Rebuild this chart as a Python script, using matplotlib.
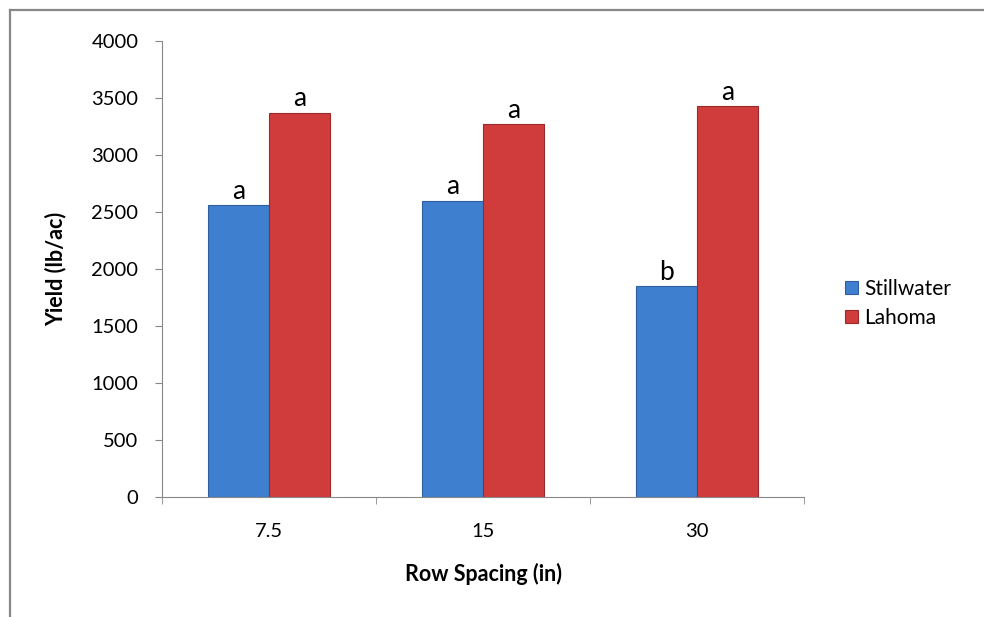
import numpy as np
import matplotlib
matplotlib.use('Agg')
import matplotlib.pyplot as plt
from matplotlib.lines import Line2D

plt.rcParams['font.family'] = ['Lato', 'DejaVu Sans']

spacing = ['7.5', '15', '30']
stillwater = [2560, 2600, 1850]
lahoma = [3370, 3270, 3430]
letters_still = ['a', 'a', 'b']
letters_lahoma = ['a', 'a', 'a']

fig = plt.figure(figsize=(9.84, 6.17), dpi=100)
ax = fig.add_axes([162/984, 1-497/617, 642/984, 456/617])

x = np.arange(len(spacing))
w = 0.285
b1 = ax.bar(x - w/2, stillwater, w, color='#3f7fcf', edgecolor='#2f5f9f', linewidth=0.8, label='Stillwater')
b2 = ax.bar(x + w/2, lahoma, w, color='#d03c3c', edgecolor='#9a2a2a', linewidth=0.8, label='Lahoma')

# lettres de significativite
for rect, lab in zip(b1, letters_still):
    ax.annotate(lab, (rect.get_x() + rect.get_width()/2, rect.get_height()),
                xytext=(0, 1), textcoords='offset points', ha='center', va='bottom', fontsize=19)
for rect, lab in zip(b2, letters_lahoma):
    ax.annotate(lab, (rect.get_x() + rect.get_width()/2, rect.get_height()),
                xytext=(0, 1), textcoords='offset points', ha='center', va='bottom', fontsize=19)

ax.set_xlim(-0.5, 2.5)
ax.set_ylim(0, 4000)
ax.set_yticks(np.arange(0, 4001, 500))
ax.set_xticks(x)
ax.set_xticklabels(spacing)
ax.set_xticks([-0.5, 0.5, 1.5, 2.5], minor=True)
ax.tick_params(axis='x', which='major', length=0, labelsize=14.5, pad=19)
ax.tick_params(axis='x', which='minor', length=5, color='#888888', direction='out')
ax.tick_params(axis='y', length=5, color='#888888', labelsize=14.5, pad=12)

for s in ['top', 'right']:
    ax.spines[s].set_visible(False)
for s in ['left', 'bottom']:
    ax.spines[s].set_color('#888888')

ax.set_xlabel('Row Spacing (in)', fontsize=15.5, fontweight='bold', labelpad=16)
ax.set_ylabel('Yield (lb/ac)', fontsize=15.5, fontweight='bold', labelpad=18)

ax.legend(loc='center left', bbox_to_anchor=(1.035, 0.425), frameon=False, fontsize=15,
          handlelength=0.6, handleheight=0.6, handletextpad=0.3, labelspacing=0.45)

# cadre exterieur (haut et gauche seulement visibles)
fig.lines.append(Line2D([10/984, 1], [1-9.5/617, 1-9.5/617], transform=fig.transFigure,
                        color='#888888', linewidth=1.6))
fig.lines.append(Line2D([10/984, 10/984], [0, 1-9.5/617], transform=fig.transFigure,
                        color='#888888', linewidth=1.6))

fig.savefig('out.png', dpi=100)
